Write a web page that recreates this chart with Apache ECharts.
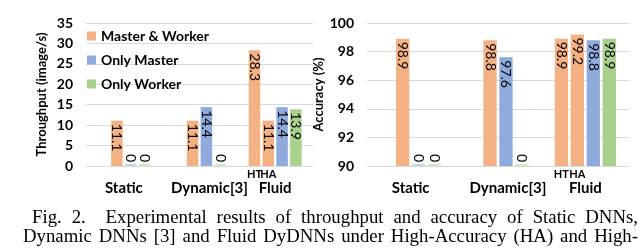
<!DOCTYPE html>
<html>
<head>
<meta charset="utf-8">
<script src="https://cdn.jsdelivr.net/npm/echarts@6/dist/echarts.min.js"></script>
<style>
html,body{margin:0;padding:0;background:#fff;}
#chart{position:absolute;left:0;top:0;width:640px;height:248px;}
#cap{position:absolute;left:23px;top:207px;width:615px;font-family:"Liberation Serif","Times New Roman",serif;font-size:18.8px;line-height:19px;color:#000;}
#cap div{text-align:justify;text-align-last:justify;white-space:nowrap;}
#cap .l1{padding-left:9px;}
</style>
</head>
<body>
<div id="chart"></div>
<div id="cap">
<div class="l1">Fig. 2.&nbsp; Experimental results of throughput and accuracy of Static DNNs,</div>
<div>Dynamic DNNs [3] and Fluid DyDNNs under High-Accuracy (HA) and High-</div>
</div>
<script>
// ---------- data ----------
const categories = ['Static', 'Dynamic[3]', 'Fluid'];
const legendNames = ['Master & Worker', 'Only Master', 'Only Worker'];
const modeTags = ['HT', 'HA'];

const throughputHT = [null, null, 28.3];   // Master & Worker, HT mode (Fluid only)
const throughputMW = [11.1, 11.1, 11.1];   // Master & Worker (HA for Fluid)
const throughputOM = [0, 14.4, 14.4];      // Only Master
const throughputOW = [0, 0, 13.9];         // Only Worker

const accuracyHT = [null, null, 98.9];
const accuracyMW = [98.9, 98.8, 99.2];
const accuracyOM = [0, 97.6, 98.8];
const accuracyOW = [0, 0, 98.9];

const throughputTicks = [0, 5, 10, 15, 20, 25, 30, 35];
const accuracyTicks = [90, 92, 94, 96, 98, 100];

// ---------- style ----------
const FONT = 'Lato';
const ORANGE = '#F4B183', BLUE = '#8FAADC', GREEN = '#A9D18E';
const PALE = {[ORANGE]: '#F9D5BC', [BLUE]: '#C9D6EF', [GREEN]: '#D3E8C4'};
const TXT = '#000';

function items(vals, base, color) {
  return vals.map(v => {
    if (v == null) return '-';
    const zero = v === 0;
    return {
      value: Math.max(v - base, 0),
      itemStyle: {color: zero ? PALE[color] : color},
      label: zero
        ? {position: 'top', align: 'right', verticalAlign: 'middle', distance: 2, formatter: String(v)}
        : {position: 'insideTop', align: 'left', verticalAlign: 'middle', distance: 3, formatter: String(v)}
    };
  });
}

function tagMark(tag) {
  return {
    silent: true,
    symbol: 'rect', symbolSize: 1,
    itemStyle: {color: 'rgba(0,0,0,0)'},
    label: {show: true, formatter: tag, position: 'bottom', distance: 2,
            fontFamily: FONT, fontSize: 11, fontWeight: 'bold', color: TXT},
    data: [{coord: [categories[2], 0]}]
  };
}

function barSeries(name, vals, base, color, axis, tag) {
  const s = {
    type: 'bar', name: name, xAxisIndex: axis, yAxisIndex: axis,
    data: items(vals, base, color),
    itemStyle: {color: color},
    barCategoryGap: '30%', barGap: '20%', barMinHeight: 2,
    label: {show: true, rotate: -90, fontFamily: FONT, fontSize: 14, color: TXT},
    emphasis: {disabled: true}
  };
  if (tag) s.markPoint = tagMark(tag);
  return s;
}

const ACC_BASE = accuracyTicks[0];
const catAxis = (g) => ({
  type: 'category', gridIndex: g, data: categories,
  axisLine: {show: false}, axisTick: {show: false},
  axisLabel: {
    interval: 0, hideOverlap: false,
    margin: 15, fontFamily: FONT, fontSize: 15, fontWeight: 'bold', color: TXT,
    formatter: v => v === categories[1] ? '{s|' + v + '}' : v,
    rich: {s: {padding: [0, 0, 0, 20], fontFamily: FONT, fontSize: 15, fontWeight: 'bold', color: TXT}}
  }
});
const valAxis = (g, ticks, base, name, gap) => ({
  type: 'value', gridIndex: g,
  min: ticks[0] - base, max: ticks[ticks.length - 1] - base, interval: ticks[1] - ticks[0],
  axisLine: {show: false}, axisTick: {show: false},
  splitLine: {lineStyle: {color: '#D9D9D9', width: 1}},
  axisLabel: {margin: 13, fontFamily: FONT, fontSize: 14, fontWeight: 'bold', color: TXT,
              formatter: v => String(v + base)},
  name: name, nameLocation: 'middle', nameRotate: 90, nameGap: gap,
  nameTextStyle: {fontFamily: FONT, fontSize: 13, fontWeight: 'bold', color: TXT}
});

const chart = echarts.init(document.getElementById('chart'), null, {renderer: 'canvas'});
chart.setOption({
  animation: false,
  grid: [
    {left: 86, top: 23, width: 227, height: 143},
    {left: 367, top: 23, width: 262, height: 143}
  ],
  legend: {
    data: legendNames, orient: 'vertical', left: 82, top: 24,
    itemWidth: 9, itemHeight: 9, itemGap: 10, icon: 'rect',
    textStyle: {fontFamily: FONT, fontSize: 14, fontWeight: 'bold', color: TXT},
    selectedMode: false
  },
  xAxis: [catAxis(0), catAxis(1)],
  yAxis: [
    valAxis(0, throughputTicks, 0, 'Throughput (image/s)', 38),
    valAxis(1, accuracyTicks, ACC_BASE, 'Accuracy (%)', 36)
  ],
  series: [
    barSeries(legendNames[0], throughputHT, 0, ORANGE, 0, modeTags[0]),
    barSeries(legendNames[0], throughputMW, 0, ORANGE, 0, modeTags[1]),
    barSeries(legendNames[1], throughputOM, 0, BLUE, 0),
    barSeries(legendNames[2], throughputOW, 0, GREEN, 0),
    barSeries(legendNames[0], accuracyHT, ACC_BASE, ORANGE, 1, modeTags[0]),
    barSeries(legendNames[0], accuracyMW, ACC_BASE, ORANGE, 1, modeTags[1]),
    barSeries(legendNames[1], accuracyOM, ACC_BASE, BLUE, 1),
    barSeries(legendNames[2], accuracyOW, ACC_BASE, GREEN, 1)
  ]
});
</script>
</body>
</html>
